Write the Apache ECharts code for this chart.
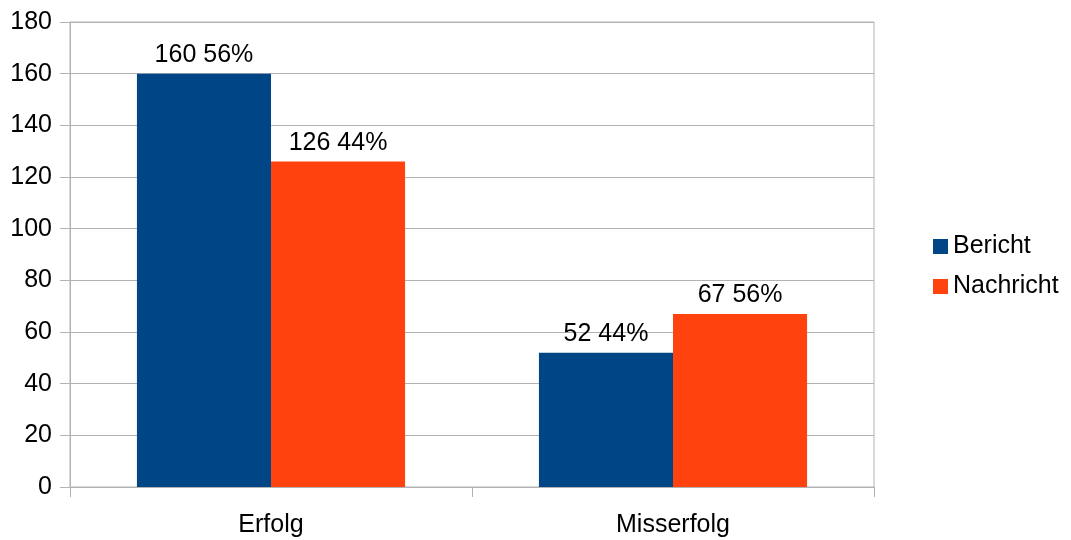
<!DOCTYPE html>
<html><head><meta charset="utf-8">
<script src="https://cdn.jsdelivr.net/npm/echarts@6/dist/echarts.min.js"></script>
<style>html,body{margin:0;padding:0;background:#fff}#c{width:1071px;height:540px}</style>
</head><body><div id="c"></div>
<script>
const categories = ['Erfolg', 'Misserfolg'];
const berichtValues = [160, 52];
const nachrichtValues = [126, 67];
const berichtPercent = ['56%', '44%'];
const nachrichtPercent = ['44%', '56%'];
const yTicks = [0, 20, 40, 60, 80, 100, 120, 140, 160, 180];

const font = 'Liberation Sans';
const fs = 25;
const chart = echarts.init(document.getElementById('c'));
function labelFor(pcts) {
  return {
    show: true, position: 'top', distance: 6, color: '#000', fontFamily: font, fontSize: fs,
    formatter: p => p.value + ' ' + pcts[p.dataIndex]
  };
}
chart.setOption({
  animation: false,
  backgroundColor: '#fff',
  grid: { left: 70, right: 197, top: 22, bottom: 53, containLabel: false,
          show: true, borderColor: '#b3b3b3', borderWidth: 1 },
  legend: {
    orient: 'vertical', left: 928, top: 229, itemWidth: 15, itemHeight: 15, itemGap: 15,
    icon: 'rect',
    textStyle: { fontFamily: font, fontSize: fs, color: '#000', padding: [0, 0, 0, 0] },
    data: ['Bericht', 'Nachricht']
  },
  xAxis: {
    type: 'category', data: categories,
    axisLine: { lineStyle: { color: '#b3b3b3', width: 1 } },
    axisTick: { show: true, length: 10, lineStyle: { color: '#b3b3b3' } },
    axisLabel: { fontFamily: font, fontSize: fs, color: '#000', margin: 26 }
  },
  yAxis: {
    type: 'value', min: yTicks[0], max: yTicks[yTicks.length - 1], interval: 20,
    axisLine: { show: true, lineStyle: { color: '#b3b3b3' } },
    axisTick: { show: true, length: 10, lineStyle: { color: '#b3b3b3' } },
    splitLine: { lineStyle: { color: '#b3b3b3' } },
    axisLabel: { fontFamily: font, fontSize: fs, color: '#000', margin: 18 }
  },
  series: [
    { name: 'Bericht', type: 'bar', data: berichtValues, itemStyle: { color: '#004586' },
      barGap: '0%', barCategoryGap: '33.3%', label: labelFor(berichtPercent) },
    { name: 'Nachricht', type: 'bar', data: nachrichtValues, itemStyle: { color: '#ff420e' },
      barGap: '0%', barCategoryGap: '33.3%', label: labelFor(nachrichtPercent) }
  ]
});
</script></body></html>
